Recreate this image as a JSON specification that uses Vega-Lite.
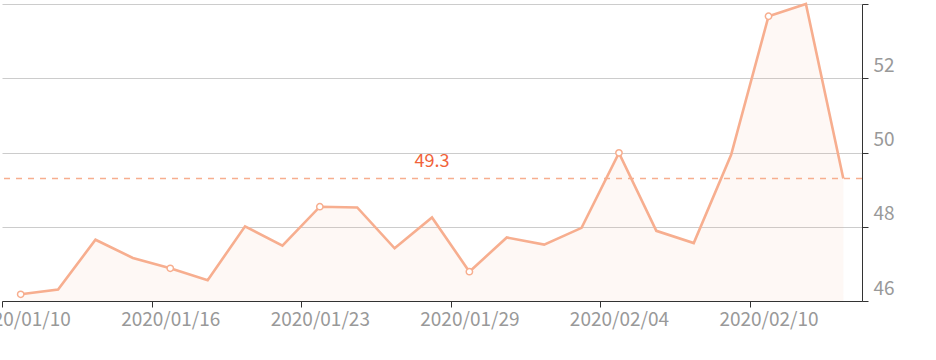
{
  "$schema": "https://vega.github.io/schema/vega-lite/v6.json",
  "width": 860,
  "height": 297,
  "autosize": "none",
  "padding": {"left": 2, "top": 4, "right": 74, "bottom": 59},
  "background": "white",
  "config": {"view": {"stroke": null}, "font": "Noto Sans CJK SC"},
  "datasets": {
    "series": [
      {"date": "2020/01/10", "value": 46.18},
      {"date": "2020/01/12", "value": 46.31},
      {"date": "2020/01/13", "value": 47.65},
      {"date": "2020/01/14", "value": 47.16},
      {"date": "2020/01/16", "value": 46.88},
      {"date": "2020/01/17", "value": 46.56},
      {"date": "2020/01/19", "value": 48.01},
      {"date": "2020/01/21", "value": 47.49},
      {"date": "2020/01/23", "value": 48.54},
      {"date": "2020/01/24", "value": 48.52},
      {"date": "2020/01/26", "value": 47.42},
      {"date": "2020/01/27", "value": 48.25},
      {"date": "2020/01/29", "value": 46.79},
      {"date": "2020/01/30", "value": 47.71},
      {"date": "2020/02/01", "value": 47.52},
      {"date": "2020/02/03", "value": 47.97},
      {"date": "2020/02/04", "value": 49.99},
      {"date": "2020/02/06", "value": 47.89},
      {"date": "2020/02/07", "value": 47.56},
      {"date": "2020/02/09", "value": 49.94},
      {"date": "2020/02/10", "value": 53.67},
      {"date": "2020/02/12", "value": 54.0},
      {"date": "2020/02/13", "value": 49.3}
    ],
    "ref": [{"value": 49.3}]
  },
  "encoding": {
    "x": {
      "field": "date",
      "type": "ordinal",
      "sort": null,
      "scale": {"type": "band", "paddingInner": 0, "paddingOuter": 0},
      "axis": {
        "title": null,
        "values": ["2020/01/10", "2020/01/16", "2020/01/23", "2020/01/29", "2020/02/04", "2020/02/10"],
        "labelAngle": 0,
        "labelOverlap": false,
        "labelFontSize": 19,
        "labelColor": "#999999",
        "labelPadding": 3,
        "tickSize": 6,
        "tickColor": "#333333",
        "domainColor": "#333333",
        "tickOffset": -18.6957,
        "labelOffset": 18.6957,
        "grid": false
      }
    },
    "y": {
      "field": "value",
      "type": "quantitative",
      "scale": {"domain": [46, 54], "zero": false, "nice": false},
      "axis": {
        "title": null,
        "orient": "right",
        "values": [46, 48, 50, 52, 54],
        "labelExpr": "datum.value == 54 ? '' : datum.label",
        "labelFontSize": 19,
        "labelColor": "#999999",
        "labelBaseline": "bottom",
        "labelOffset": -3,
        "labelPadding": 5,
        "tickSize": 6,
        "tickColor": "#333333",
        "domainColor": "#333333",
        "grid": true,
        "gridColor": "#cccccc"
      }
    }
  },
  "layer": [
    {
      "data": {"name": "series"},
      "mark": {"type": "area", "color": "#f7ae8f", "opacity": 0.09},
      "encoding": {"y2": {"datum": 46}}
    },
    {
      "data": {"name": "series"},
      "mark": {"type": "line", "color": "#f7ae8f", "strokeWidth": 2.6}
    },
    {
      "data": {"name": "ref"},
      "mark": {"type": "rule", "color": "#f7ae8f", "strokeDash": [6, 6], "strokeWidth": 1.5},
      "encoding": {"x": null, "y": {"field": "value", "type": "quantitative"}}
    },
    {
      "data": {"name": "ref"},
      "mark": {"type": "text", "color": "#f1633a", "fontSize": 18, "baseline": "alphabetic", "align": "center", "dy": -11, "x": {"expr": "width / 2"}},
      "encoding": {"x": null, "y": {"field": "value", "type": "quantitative"}, "text": {"field": "value", "type": "quantitative", "format": ".1f"}}
    },
    {
      "data": {"name": "series"},
      "transform": [{"filter": {"field": "date", "oneOf": ["2020/01/10", "2020/01/16", "2020/01/23", "2020/01/29", "2020/02/04", "2020/02/10"]}}],
      "mark": {"type": "point", "shape": "circle", "filled": true, "fill": "white", "stroke": "#f7ae8f", "strokeWidth": 1.5, "size": 40, "opacity": 1}
    }
  ]
}
